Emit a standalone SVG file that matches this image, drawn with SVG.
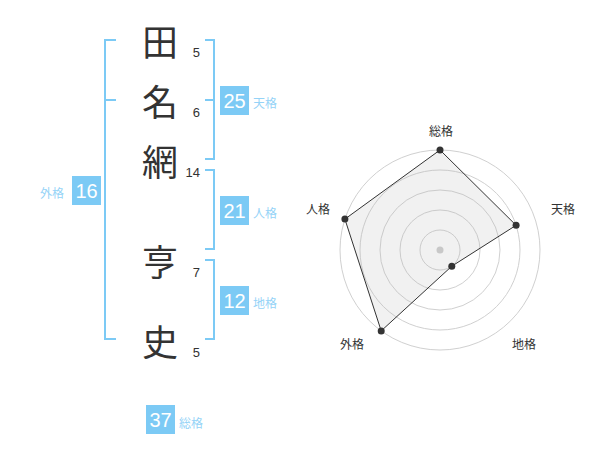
<svg xmlns="http://www.w3.org/2000/svg" width="600" height="470" viewBox="0 0 600 470">
<style>
.kanji{font-family:"Noto Sans CJK JP","Noto Sans CJK SC",sans-serif;font-size:36px;fill:#333;text-anchor:middle;dominant-baseline:central}
.num{font-family:"Liberation Sans",Arial,sans-serif;font-size:13px;fill:#333;text-anchor:end}
.br{fill:none;stroke:#7ccaf5;stroke-width:2}
.box{fill:#7ccaf5}
.bnum{font-family:"Liberation Sans",Arial,sans-serif;font-size:20px;fill:#fff;text-anchor:middle}
.lab{font-family:"Noto Sans CJK JP","Noto Sans CJK SC",sans-serif;font-size:12px;fill:#95d3f7;dominant-baseline:central}
.ring{fill:none;stroke:#d0d0d0;stroke-width:1}
.rlab{font-family:"Noto Sans CJK JP","Noto Sans CJK SC",sans-serif;font-size:12px;fill:#333;text-anchor:middle;dominant-baseline:central}
.dot{fill:#333}
</style>
<g id="name">
<text class="kanji" x="160" y="40">田</text>
<text class="kanji" x="160" y="100">名</text>
<text class="kanji" x="160" y="160">網</text>
<text class="kanji" x="160" y="260">亨</text>
<text class="kanji" x="160" y="340">史</text>
<text class="num" x="200" y="57">5</text>
<text class="num" x="200" y="117">6</text>
<text class="num" x="200" y="177">14</text>
<text class="num" x="200" y="277">7</text>
<text class="num" x="200" y="357">5</text>
</g>
<g id="connectors">
<path class="br" d="M116,40 H105 V339 H116 M105,100 H116"/>
<path class="br" d="M205,40 H214 V159 H205 M205,100 H214"/>
<path class="br" d="M205,170 H214 V249 H205"/>
<path class="br" d="M205,260 H214 V339 H205"/>
</g>
<g id="tenkaku">
<rect class="box" x="220" y="86" width="29" height="29"/>
<text class="bnum" x="234.5" y="107.5">25</text>
<text class="lab" x="253" y="102">天格</text>
</g>
<g id="jinkaku">
<rect class="box" x="220" y="196" width="29" height="29"/>
<text class="bnum" x="234.5" y="217.5">21</text>
<text class="lab" x="253" y="212">人格</text>
</g>
<g id="chikaku">
<rect class="box" x="220" y="286" width="29" height="29"/>
<text class="bnum" x="234.5" y="307.5">12</text>
<text class="lab" x="253" y="302">地格</text>
</g>
<g id="gaikaku">
<rect class="box" x="72" y="176" width="29" height="29"/>
<text class="bnum" x="86.5" y="197.5">16</text>
<text class="lab" x="40" y="192">外格</text>
</g>
<g id="soukaku">
<rect class="box" x="146" y="405" width="29" height="29"/>
<text class="bnum" x="160.5" y="426.5">37</text>
<text class="lab" x="179" y="422">総格</text>
</g>
<g id="radar">
<circle class="ring" cx="440" cy="250" r="100"/>
<circle class="ring" cx="440" cy="250" r="80"/>
<circle class="ring" cx="440" cy="250" r="60"/>
<circle class="ring" cx="440" cy="250" r="40"/>
<circle class="ring" cx="440" cy="250" r="20"/>
<circle cx="440" cy="250" r="3.5" fill="#ccc"/>
<polygon points="440,150 516.1,225.3 451.8,266.2 381.2,330.9 344.9,219.1" fill="#bbb" fill-opacity="0.2" stroke="#333" stroke-width="1"/>
<circle class="dot" cx="440" cy="150" r="3.5"/>
<circle class="dot" cx="516.1" cy="225.3" r="3.5"/>
<circle class="dot" cx="451.8" cy="266.2" r="3.5"/>
<circle class="dot" cx="381.2" cy="330.9" r="3.5"/>
<circle class="dot" cx="344.9" cy="219.1" r="3.5"/>
<text class="rlab" x="441" y="130">総格</text>
<text class="rlab" x="563" y="208">天格</text>
<text class="rlab" x="524" y="343">地格</text>
<text class="rlab" x="352" y="343">外格</text>
<text class="rlab" x="318" y="208">人格</text>
</g>
</svg>
